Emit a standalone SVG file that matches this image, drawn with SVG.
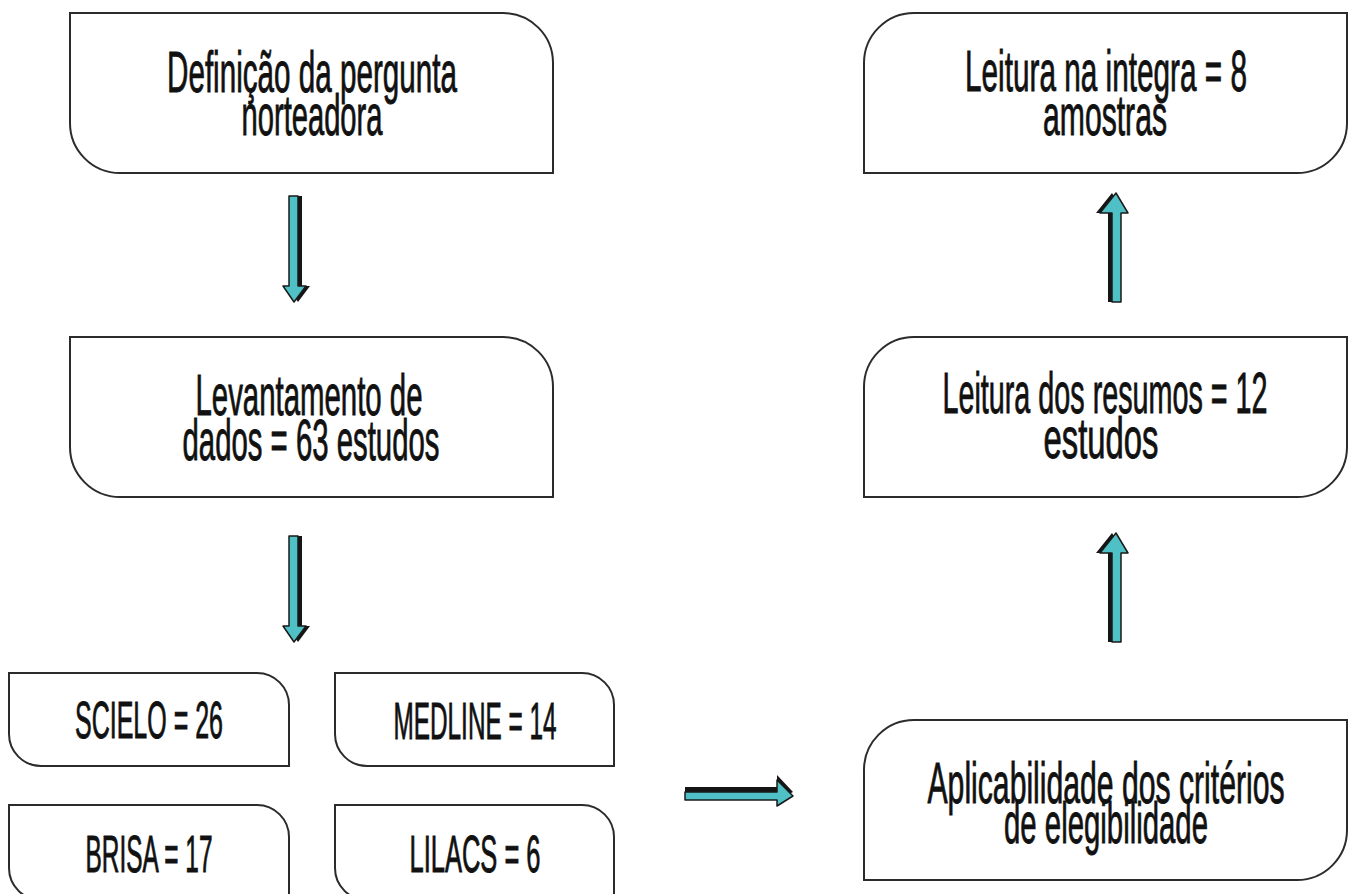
<svg xmlns="http://www.w3.org/2000/svg" width="1352" height="894" viewBox="0 0 1352 894">
<style>
.box{fill:#fff;stroke:#2b2b2b;stroke-width:2}
.t{font-family:"Liberation Sans Narrow","Liberation Sans",Arial,sans-serif;fill:#111;stroke:#111;stroke-width:0.9;text-anchor:middle}
.big{font-size:57px}
.sm{font-size:52px}
.ac{fill:#4fc1c6;stroke:#1a1a1a;stroke-width:1.5;stroke-linejoin:round}
.as{fill:#151515}
</style>
<rect width="1352" height="894" fill="#fff"/>
<g id="n1">
<path class="box" d="M70,13 H503 A50,50 0 0 1 553,63 V173 H120 A50,50 0 0 1 70,123 Z"/>
<text class="t big" x="312" y="92" textLength="290" lengthAdjust="spacingAndGlyphs">Definição da pergunta</text>
<text class="t big" x="312" y="135" textLength="141" lengthAdjust="spacingAndGlyphs">norteadora</text>
</g>
<g id="n2">
<path class="box" d="M70,337 H503 A50,50 0 0 1 553,387 V497 H120 A50,50 0 0 1 70,447 Z"/>
<text class="t big" x="309" y="415" textLength="227" lengthAdjust="spacingAndGlyphs">Levantamento de</text>
<text class="t big" x="311" y="460" textLength="257" lengthAdjust="spacingAndGlyphs">dados = 63 estudos</text>
</g>
<g id="scielo">
<path class="box" d="M9,673 H257 A32,32 0 0 1 289,705 V766 H41 A32,32 0 0 1 9,734 Z"/>
<text class="t sm" x="149" y="738" textLength="148" lengthAdjust="spacingAndGlyphs">SCIELO = 26</text>
</g>
<g id="medline">
<path class="box" d="M335,673 H582 A32,32 0 0 1 614,705 V766 H367 A32,32 0 0 1 335,734 Z"/>
<text class="t sm" x="475" y="739" textLength="163" lengthAdjust="spacingAndGlyphs">MEDLINE = 14</text>
</g>
<g id="brisa">
<path class="box" d="M9,805 H257 A32,32 0 0 1 289,837 V900 H41 A32,32 0 0 1 9,868 Z"/>
<text class="t sm" x="149" y="872" textLength="127" lengthAdjust="spacingAndGlyphs">BRISA = 17</text>
</g>
<g id="lilacs">
<path class="box" d="M335,805 H582 A32,32 0 0 1 614,837 V900 H367 A32,32 0 0 1 335,868 Z"/>
<text class="t sm" x="475" y="872" textLength="131" lengthAdjust="spacingAndGlyphs">LILACS = 6</text>
</g>
<g id="n3">
<path class="box" d="M914,720 H1347 V830 A50,50 0 0 1 1297,880 H864 V770 A50,50 0 0 1 914,720 Z"/>
<text class="t big" x="1106" y="803" textLength="357" lengthAdjust="spacingAndGlyphs">Aplicabilidade dos critérios</text>
<text class="t big" x="1106" y="843" textLength="204" lengthAdjust="spacingAndGlyphs">de elegibilidade</text>
</g>
<g id="n4">
<path class="box" d="M914,337 H1347 V447 A50,50 0 0 1 1297,497 H864 V387 A50,50 0 0 1 914,337 Z"/>
<text class="t big" x="1105" y="413" textLength="325" lengthAdjust="spacingAndGlyphs">Leitura dos resumos = 12</text>
<text class="t big" x="1101" y="458" textLength="115" lengthAdjust="spacingAndGlyphs">estudos</text>
</g>
<g id="n5">
<path class="box" d="M914,13 H1347 V123 A50,50 0 0 1 1297,173 H864 V63 A50,50 0 0 1 914,13 Z"/>
<text class="t big" x="1106" y="91" textLength="282" lengthAdjust="spacingAndGlyphs">Leitura na integra = 8</text>
<text class="t big" x="1105" y="135" textLength="124" lengthAdjust="spacingAndGlyphs">amostras</text>
</g>
<g id="connectors">
<defs>
<polygon id="dn1" points="289,196 298,196 298,286 306,286 294,302 283,286 289,286"/>
<polygon id="up1" points="1112,302 1121,302 1121,213 1128,213 1116,193 1100,213 1112,213"/>
</defs>
<g>
<use href="#dn1" class="as" transform="translate(4,0)"/>
<use href="#dn1" class="ac"/>
</g>
<g transform="translate(0,340)">
<use href="#dn1" class="as" transform="translate(4,0)"/>
<use href="#dn1" class="ac"/>
</g>
<g>
<use href="#up1" class="as" transform="translate(-4,0)"/>
<use href="#up1" class="ac"/>
</g>
<g transform="translate(0,340)">
<use href="#up1" class="as" transform="translate(-4,0)"/>
<use href="#up1" class="ac"/>
</g>
<g>
<polygon class="as" points="685,787 777,787 777,775 793,792 777,800 685,800"/>
<polygon class="ac" points="685,792 777,792 777,780 793,796 777,806 777,800 685,800"/>
</g>
</g>
</svg>
